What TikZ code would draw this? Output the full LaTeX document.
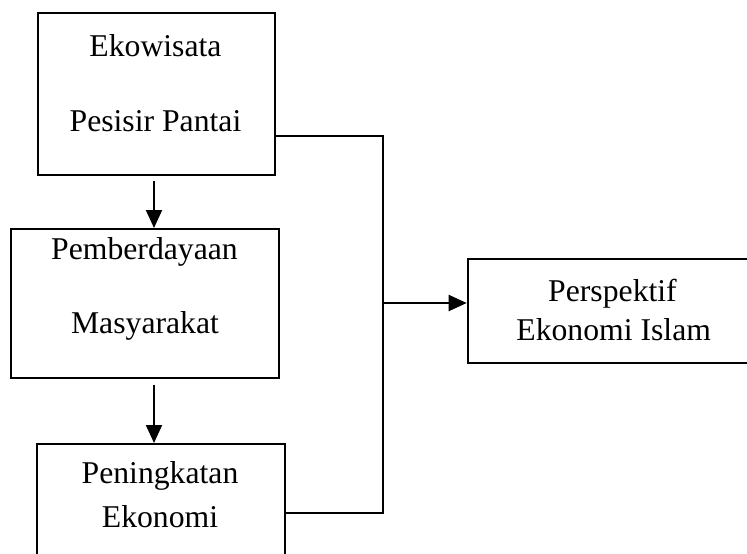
\documentclass[tikz,border=0pt]{standalone}
\usepackage{fontspec}
\setmainfont{Liberation Serif}
\usepackage{tikz}
\usetikzlibrary{arrows.meta, positioning, calc}

\begin{document}
\begin{tikzpicture}[x=1pt, y=-1pt, line width=2pt,
    font=\fontsize{31.7}{38}\selectfont,
    box/.style={draw, rectangle, inner sep=0pt},
    lbl/.style={anchor=base, inner sep=0pt},
    arr/.style={-{Triangle[length=18pt, width=16pt]}}]
      \clip (0,0) rectangle (747,554);

      % kotak
      \node[box, minimum width=237.5, minimum height=162.5] (eko) at (156.25,93.75) {};
      \node[box, minimum width=268, minimum height=148.7] (pem) at (145,303.35) {};
      \node[box, minimum width=248.3, minimum height=121] (pen) at (160.85,504.5) {};
      \node[box, minimum width=292.3, minimum height=104] (per) at (613.85,311.3) {};

      % teks
      \node[lbl] (ekoA) at (155.5,56.7) {Ekowisata};
      \node[lbl] (ekoB) at (155.5,131.7) {Pesisir Pantai};
      \node[lbl] (pemA) at (144.5,259.5) {Pemberdayaan};
      \node[lbl] (pemB) at (145,333.3) {Masyarakat};
      \node[lbl] (penA) at (160,483.5) {Peningkatan};
      \node[lbl] (penB) at (160,527.3) {Ekonomi};
      \node[lbl] (perA) at (612.5,301.7) {Perspektif};
      \node[lbl] (perB) at (613.7,340) {Ekonomi Islam};

      % panah
      \coordinate (ax) at (154,0);
      \draw[arr] ([yshift=-5pt]eko.south -| ax) -- (pem.north -| ax);
      \draw[arr] ([yshift=-6pt]pem.south -| ax) -- (pen.north -| ax);

      \coordinate (jtop) at (383,135.7);
      \coordinate (jmid) at (383,303);
      \coordinate (jbot) at (383,513);
      \draw (eko.east |- jtop) -- (jtop) -- (jbot) -- (pen.east |- jbot);
      \draw[arr] (jmid) -- (per.west |- jmid);
    \end{tikzpicture}
\end{document}
